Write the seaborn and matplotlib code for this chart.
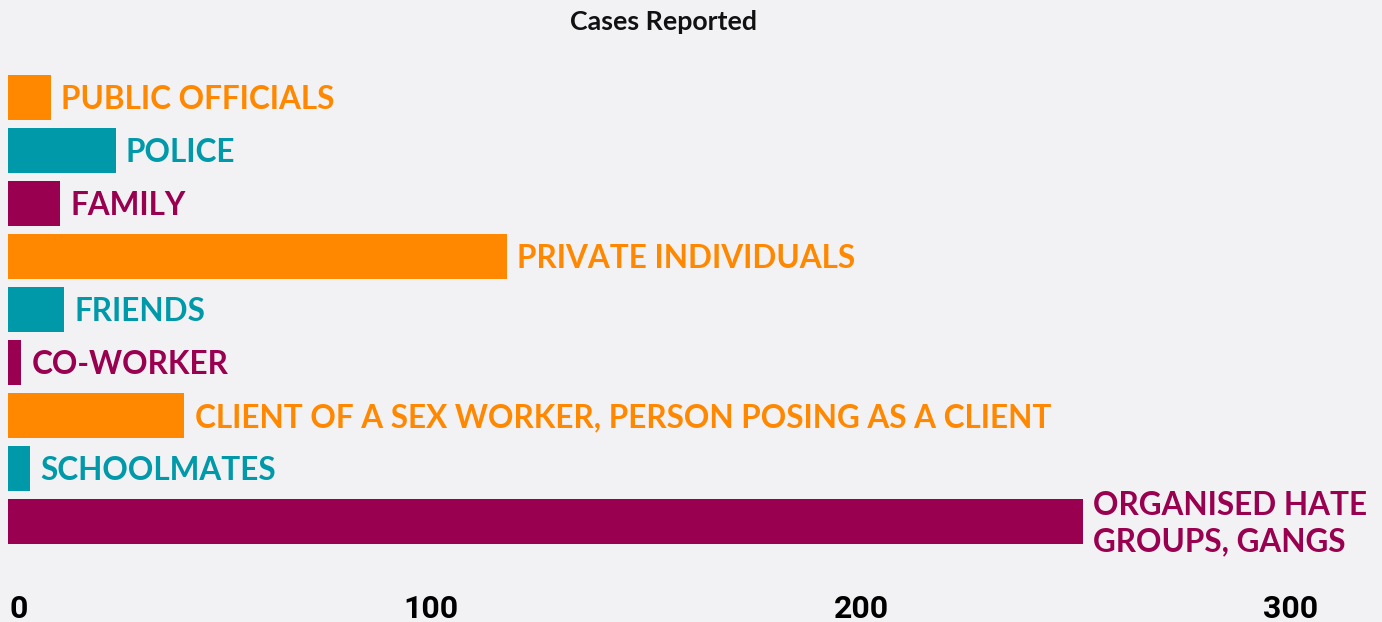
import matplotlib
matplotlib.use("Agg")
import matplotlib.pyplot as plt
import matplotlib.transforms as mtransforms
import pandas as pd
import seaborn as sns

# ---------- data ----------
categories = [
    "PUBLIC OFFICIALS",
    "POLICE",
    "FAMILY",
    "PRIVATE INDIVIDUALS",
    "FRIENDS",
    "CO-WORKER",
    "CLIENT OF A SEX WORKER, PERSON POSING AS A CLIENT",
    "SCHOOLMATES",
    "ORGANISED HATE\nGROUPS, GANGS",
]
cases = [10, 25, 12, 116, 13, 3, 41, 5, 250]
bar_colors = ["#ff8800", "#0099aa", "#990050"] * 3
x_ticks = [0, 100, 200, 300]

BG = "#f2f2f4"

df = pd.DataFrame({"category": categories, "cases": cases})

sns.set_theme(style="white")
plt.rcParams["font.family"] = ["Lato", "DejaVu Sans"]

fig = plt.figure(figsize=(13.82, 6.22), dpi=100, facecolor=BG)
ax = fig.add_axes([8 / 1382, 74 / 622, 1374 / 1382, 477 / 622])
ax.set_facecolor(BG)

sns.barplot(
    data=df, x="cases", y="category", hue="category",
    palette=bar_colors, orient="h", width=0.85,
    saturation=1, legend=False, linewidth=0, ax=ax,
)

# labels at the end of each bar
for i, (cat, val, col) in enumerate(zip(categories, cases, bar_colors)):
    ax.annotate(
        cat, xy=(val, i), xytext=(7.5, -1.5), textcoords="offset points",
        ha="left", va="center", color=col, fontsize=22.7,
        fontweight="bold", linespacing=1.3,
    )

ax.set_xlim(0, 1374 / 4.3)
ax.set_ylim(8.5, -0.5)
ax.set_xticks(x_ticks)
ax.set_xticklabels([str(t) for t in x_ticks], fontsize=23,
                   fontweight="bold", family="Roboto", color="black")
ax.tick_params(axis="x", length=0, pad=33)
# nudge tick labels like the original layout
for j, lab in enumerate(ax.get_xticklabels()):
    if j == 0:
        lab.set_ha("left")
        dx = 1 / 72
    else:
        dx = -5 / 72
    lab.set_transform(lab.get_transform()
                      + mtransforms.ScaledTranslation(dx, 0, fig.dpi_scale_trans))
ax.set_yticks([])
ax.set_xlabel("")
ax.set_ylabel("")
for s in ax.spines.values():
    s.set_visible(False)

fig.text(664 / 1382, 1 - 22 / 622, "Cases Reported", ha="center", va="center",
         fontsize=19.3, fontweight="bold", color="#111111")

fig.savefig("out.png", dpi=100, facecolor=BG)
